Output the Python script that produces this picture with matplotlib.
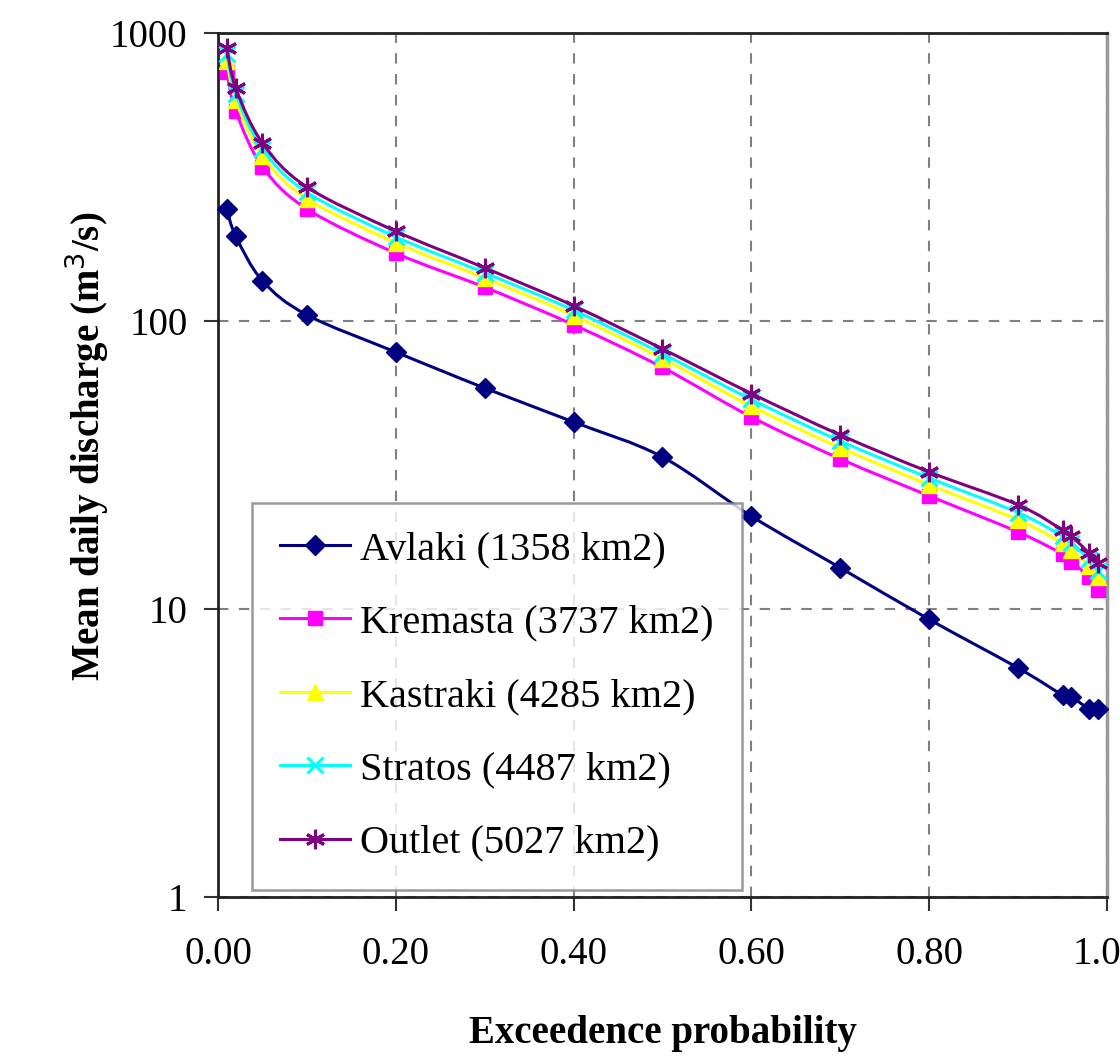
import numpy as np
import matplotlib
matplotlib.use('Agg')
import matplotlib.pyplot as plt
from matplotlib.path import Path
from matplotlib.patches import PathPatch
from matplotlib.lines import Line2D
from matplotlib.ticker import FixedLocator, FixedFormatter, NullLocator

# exceedence probabilities
prob = [0.01, 0.02, 0.05, 0.10, 0.20, 0.30, 0.40, 0.50, 0.60, 0.70,
        0.80, 0.90, 0.95, 0.96, 0.98, 0.99]

# mean daily discharge (m3/s)
avlaki = [245, 197, 138, 105, 78, 58.5, 44.6, 33.7, 21.0, 13.9,
          9.2, 6.24, 5.03, 4.95, 4.5, 4.5]
kremasta = [732, 536, 343, 245, 172, 131, 97, 69, 46.4, 33.2,
            24.7, 18.5, 15.5, 14.6, 12.9, 11.6]
kastraki = [801, 584, 375, 266, 187, 141, 104.5, 74, 50.6, 36.3,
            27.0, 20.4, 16.9, 16.0, 14.1, 12.9]
stratos = [846, 615, 396, 280, 196, 147, 109, 77, 53.4, 38.3,
           28.5, 21.6, 17.9, 17.0, 14.9, 13.6]
outlet = [887, 644, 415, 292, 205, 153, 113, 80, 56, 40.2,
          29.9, 23, 18.8, 17.9, 15.6, 14.4]

labels = ['Avlaki (1358 km2)', 'Kremasta (3737 km2)', 'Kastraki (4285 km2)',
          'Stratos (4487 km2)', 'Outlet (5027 km2)']
colors = ['#000080', '#FF00FF', '#FFFF00', '#00FFFF', '#800080']


def smooth_path(x, y):
    # Excel-like smoothed line: cubic bezier through the points (in x / log y)
    x = np.asarray(x, float)
    ly = np.log10(np.asarray(y, float))
    n = len(x)
    verts = [(x[0], 10 ** ly[0])]
    codes = [Path.MOVETO]
    for i in range(n - 1):
        i0 = max(i - 1, 0)
        i3 = min(i + 2, n - 1)
        c1 = (x[i] + (x[i + 1] - x[i0]) / 6, ly[i] + (ly[i + 1] - ly[i0]) / 6)
        c2 = (x[i + 1] - (x[i3] - x[i]) / 6, ly[i + 1] - (ly[i3] - ly[i]) / 6)
        verts += [(c1[0], 10 ** c1[1]), (c2[0], 10 ** c2[1]),
                  (x[i + 1], 10 ** ly[i + 1])]
        codes += [Path.CURVE4] * 3
    return Path(verts, codes)


plt.rcParams['font.family'] = ['Liberation Serif', 'DejaVu Serif']

fig = plt.figure(figsize=(11.2, 10.62), dpi=100)
ax = fig.add_axes([0.1946, 0.1554, 0.7938, 0.8135])
ax.set_yscale('log')
ax.set_ylim(1, 1000)
ax.set_xlim(0, 1.0)

lw = 2.2
series = [avlaki, kremasta, kastraki, stratos, outlet]
markers = [dict(marker='D', ms=10.5),
           dict(marker='s', ms=10),
           dict(marker='^', ms=11),
           dict(marker='x', ms=12, mew=2.2),
           dict(marker=(6, 2, 0), ms=14, mew=2.2)]
handles = []
for i, vals in enumerate(series):
    z = 3 + i * 0.1
    ax.add_patch(PathPatch(smooth_path(prob, vals), facecolor='none',
                           edgecolor=colors[i], lw=lw, zorder=z))
    ax.plot(prob, vals, ls='none', color=colors[i], zorder=z + 0.05,
            clip_on=False, **markers[i])
    handles.append(Line2D([], [], color=colors[i], lw=lw, **markers[i]))

ax.yaxis.set_major_locator(FixedLocator([1, 10, 100, 1000]))
ax.yaxis.set_major_formatter(FixedFormatter(['1', '10', '100', '1000']))
ax.yaxis.set_minor_locator(NullLocator())
ax.set_xticks([0, 0.2, 0.4, 0.6, 0.8, 1.0])
ax.set_xticklabels(['0.00', '0.20', '0.40', '0.60', '0.80', '1.00'])

ax.tick_params(axis='both', which='major', labelsize=28, direction='out',
               length=10, width=1.5, colors='#333333', labelcolor='black')
ax.tick_params(axis='x', pad=18)
ax.tick_params(axis='y', pad=12)

ax.grid(True, which='major', color='#808080', linestyle=(0, (5, 5)), lw=1.5)

for side in ['left', 'bottom', 'top']:
    ax.spines[side].set_color('#222222')
    ax.spines[side].set_linewidth(2)
ax.spines['right'].set_color('#999999')
ax.spines['right'].set_linewidth(2.5)

ax.set_xlabel('Exceedence probability', fontsize=28, fontweight='bold', labelpad=30)
ax.set_ylabel('Mean daily discharge (m$^3$/s)', fontsize=28, fontweight='bold')
ax.yaxis.set_label_coords(-0.120, 0.522)

leg = ax.legend(handles, labels, loc='lower left',
                bbox_to_anchor=(0.038, 0.008), fontsize=29,
                frameon=True, fancybox=False, edgecolor='#808080',
                handlelength=1.75, handletextpad=0.25, labelspacing=0.9,
                borderpad=0.7, borderaxespad=0)
leg.get_frame().set_linewidth(1.8)
leg.set_zorder(5)

fig.savefig('out.png', dpi=100)
